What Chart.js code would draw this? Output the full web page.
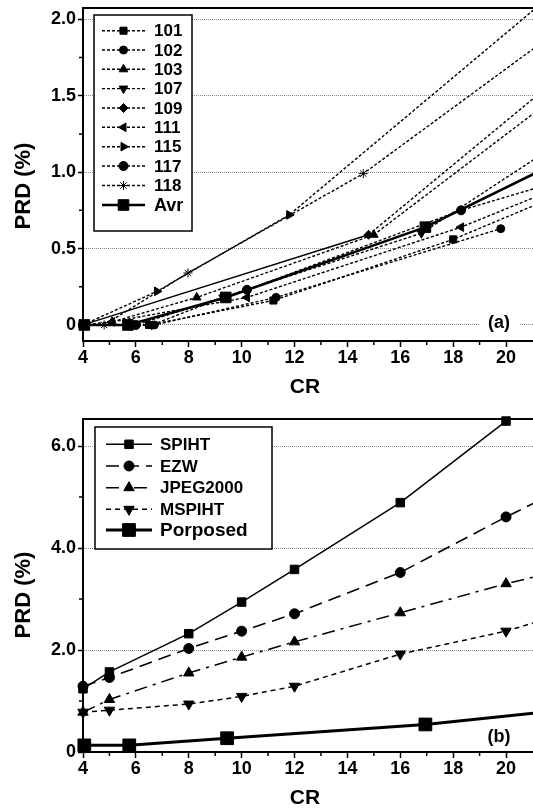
<!DOCTYPE html>
<html lang="en">
<head>
    <meta charset="UTF-8">
    <title>PRD vs CR</title>
    <script src="https://cdn.jsdelivr.net/npm/chart.js"></script>
    <style>
        body {
            margin: 0;
            background: #fff;
        }

        #wrap {
            position: relative;
            width: 533px;
            height: 810px;
            overflow: hidden;
        }

        canvas {
            position: absolute;
            left: 0;
        }

        #chartA { top: 0; }
        #chartB { top: 400px; }
    </style>
</head>
<body>
<div id="wrap">
    <canvas id="chartA" width="533" height="400"></canvas>
    <canvas id="chartB" width="533" height="410"></canvas>
</div>
<script>
    // ---- axes ----
    const xTitle = 'CR';
    const yTitle = 'PRD (%)';
    const xTicks = [4, 6, 8, 10, 12, 14, 16, 18, 20];
    const xMinor = [5, 7, 9, 11, 13, 15, 17, 19];

    const yTicksA = [0, 0.5, 1.0, 1.5, 2.0];
    const yLabelsA = ['0', '0.5', '1.0', '1.5', '2.0'];
    const yMinorA = [0.25, 0.75, 1.25, 1.75];

    const yTicksB = [0, 2, 4, 6];
    const yLabelsB = ['0', '2.0', '4.0', '6.0'];
    const yMinorB = [1, 3, 5];

    // ---- (a) records ----
    const cr101 = [4.0, 6.5, 11.2, 18.0, 22.0];
    const prd101 = [0, 0, 0.16, 0.56, 0.85];
    const cr102 = [4.0, 6.7, 11.3, 19.8];
    const prd102 = [0, 0, 0.18, 0.63];
    const cr103 = [4.0, 5.1, 8.3, 15.0, 22.0];
    const prd103 = [0, 0.02, 0.18, 0.59, 1.51];
    const cr107 = [4.0, 6.6, 9.3, 16.8, 22.0];
    const prd107 = [0, 0, 0.18, 0.60, 1.19];
    const cr109 = [4.0, 14.8, 22.0];
    const prd109 = [0, 0.59, 1.62];
    const cr111 = [4.0, 5.1, 10.2, 18.3, 22.0];
    const prd111 = [0, 0.02, 0.18, 0.64, 0.90];
    const cr115 = [4.0, 6.8, 11.8, 22.0];
    const prd115 = [0, 0.22, 0.72, 2.20];
    const cr117 = [4.0, 6.0, 10.2, 18.3, 22.0];
    const prd117 = [0, 0, 0.23, 0.75, 0.94];
    const cr118 = [4.0, 4.8, 7.97, 14.6, 22.0];
    const prd118 = [0, 0, 0.34, 0.99, 1.93];
    const crAvr = [4.05, 5.7, 9.4, 16.95, 22.0];
    const prdAvr = [0, 0, 0.18, 0.64, 1.07];

    // ---- (b) methods ----
    const crB = [4, 5, 8, 10, 12, 16, 20, 22];
    const spiht = [1.24, 1.57, 2.32, 2.94, 3.58, 4.89, 6.49];
    const ezw = [1.29, 1.46, 2.03, 2.37, 2.71, 3.52, 4.61, 5.12];
    const jpeg2000 = [0.78, 1.03, 1.55, 1.86, 2.16, 2.73, 3.30, 3.55];
    const mspiht = [0.78, 0.82, 0.94, 1.09, 1.29, 1.92, 2.37, 2.68];
    const crProposed = [4.05, 5.75, 9.45, 16.95, 22.0];
    const proposed = [0.13, 0.13, 0.27, 0.54, 0.81];

    const FONT = '"Liberation Sans", Arial, sans-serif';
    Chart.defaults.font.family = FONT;
    Chart.defaults.color = '#000';

    const bold = size => ({ family: FONT, size: size, weight: 'bold' });
    const pts = (xs, ys) => ys.map((y, i) => ({ x: xs[i], y: y }));

    function series(label, xs, ys, style) {
        return Object.assign({
            label: label,
            data: pts(xs, ys),
            borderColor: '#000',
            backgroundColor: '#000',
            pointBackgroundColor: '#000',
            pointBorderColor: '#000',
            pointBorderWidth: 1,
            borderWidth: 1.4,
            borderDash: [3, 2],
            tension: 0,
            pointStyle: 'circle',
            pointRadius: 3.5,
            pointRotation: 0,
            clip: { left: 10, top: 10, right: 0, bottom: 10 }
        }, style);
    }

    // frame, minor ticks, titles, panel tag, legend
    const decor = {
        id: 'decor',
        afterDraw(chart, args, o) {
            const { ctx, chartArea: a, scales: { x, y } } = chart;
            ctx.save();
            ctx.strokeStyle = '#000';
            ctx.lineWidth = 2;
            ctx.beginPath();
            ctx.moveTo(a.left - 1, a.top);
            ctx.lineTo(chart.width, a.top);
            ctx.stroke();

            ctx.lineWidth = 1.5;
            ctx.beginPath();
            o.xMinor.forEach(v => {
                const p = x.getPixelForValue(v);
                ctx.moveTo(p, a.bottom);
                ctx.lineTo(p, a.bottom + 4);
            });
            o.yMinor.forEach(v => {
                const p = y.getPixelForValue(v);
                ctx.moveTo(a.left, p);
                ctx.lineTo(a.left - 4, p);
            });
            ctx.stroke();

            // panel tag
            ctx.fillStyle = '#fff';
            ctx.fillRect(o.tag.x - 20, o.tag.y - 10, 40, 20);
            ctx.fillStyle = '#000';
            ctx.font = 'bold 18px ' + FONT;
            ctx.textAlign = 'center';
            ctx.textBaseline = 'middle';
            ctx.fillText(o.tag.text, o.tag.x, o.tag.y);

            // axis titles
            ctx.font = 'bold 21px ' + FONT;
            ctx.fillText(xTitle, o.title.crX, o.title.crY);
            ctx.save();
            ctx.translate(o.title.prdX, o.title.prdY);
            ctx.rotate(-Math.PI / 2);
            ctx.font = 'bold 22px ' + FONT;
            ctx.fillText(yTitle, 0, 0);
            ctx.restore();

            // legend
            const L = o.legend;
            ctx.fillStyle = '#fff';
            ctx.fillRect(L.box[0], L.box[1], L.box[2] - L.box[0], L.box[3] - L.box[1]);
            ctx.strokeStyle = '#000';
            ctx.lineWidth = 1.5;
            ctx.strokeRect(L.box[0], L.box[1], L.box[2] - L.box[0], L.box[3] - L.box[1]);
            chart.data.datasets.forEach((ds, i) => {
                const ry = L.rows[i];
                ctx.save();
                ctx.strokeStyle = '#000';
                ctx.lineWidth = ds.borderWidth;
                ctx.setLineDash(ds.borderDash || []);
                ctx.beginPath();
                ctx.moveTo(L.x1, ry);
                ctx.lineTo(L.x2, ry);
                ctx.stroke();
                ctx.setLineDash([]);
                ctx.fillStyle = '#000';
                ctx.lineWidth = 1;
                Chart.helpers.drawPoint(ctx, {
                    pointStyle: ds.pointStyle,
                    rotation: ds.pointRotation || 0,
                    radius: ds.pointRadius,
                    borderWidth: 1
                }, (L.x1 + L.x2) / 2, ry);
                ctx.restore();
                ctx.fillStyle = '#000';
                ctx.textAlign = 'left';
                ctx.textBaseline = 'middle';
                ctx.font = 'bold ' + (L.sizes[i] || 17) + 'px ' + FONT;
                ctx.fillText(ds.label, L.tx, ry + 1);
            });
            ctx.restore();
        }
    };

    const noPad = s => {
        s.paddingLeft = 0;
        s.paddingRight = 0;
        s.paddingTop = 0;
        s.paddingBottom = 0;
    };

    function scales(yMin, yMax, yTicks, yLabels, xHeight) {
        return {
            x: {
                type: 'linear',
                min: 4,
                max: 21.02,
                afterBuildTicks: s => { s.ticks = xTicks.map(v => ({ value: v })); },
                afterFit: s => { s.height = xHeight; noPad(s); },
                grid: { drawOnChartArea: false, tickLength: 6, tickColor: '#000', tickWidth: 1.5 },
                border: { color: '#000', width: 2 },
                ticks: { color: '#000', font: bold(18), padding: 0, maxRotation: 0, autoSkip: false,
                         callback: v => String(v) }
            },
            y: {
                type: 'linear',
                min: yMin,
                max: yMax,
                afterBuildTicks: s => { s.ticks = yTicks.map(v => ({ value: v })); },
                afterFit: s => { s.width = 83; noPad(s); },
                grid: { color: '#8a8a8a', lineWidth: 1, tickLength: 5, tickColor: '#000', tickWidth: 1.5 },
                border: { color: '#000', width: 2, dash: [1, 1] },
                ticks: { color: '#000', font: bold(18), padding: 2, autoSkip: false,
                         callback: (v, i) => yLabels[i] }
            }
        };
    }

    new Chart(document.getElementById('chartA'), {
        type: 'line',
        data: {
            datasets: [
                series('101', cr101, prd101, { pointStyle: 'rect', pointRadius: 5 }),
                series('102', cr102, prd102, { pointStyle: 'circle', pointRadius: 4 }),
                series('103', cr103, prd103, { pointStyle: 'triangle', pointRadius: 5 }),
                series('107', cr107, prd107, { pointStyle: 'triangle', pointRadius: 5, pointRotation: 180 }),
                series('109', cr109, prd109, { pointStyle: 'rectRot', pointRadius: 4.5,
                    segment: { borderDash: c => c.p0DataIndex === 0 ? [] : undefined } }),
                series('111', cr111, prd111, { pointStyle: 'triangle', pointRadius: 5, pointRotation: 270 }),
                series('115', cr115, prd115, { pointStyle: 'triangle', pointRadius: 5, pointRotation: 90 }),
                series('117', cr117, prd117, { pointStyle: 'circle', pointRadius: 4.5 }),
                series('118', cr118, prd118, { pointStyle: 'star', pointRadius: 4.5 }),
                series('Avr', crAvr, prdAvr, { pointStyle: 'rect', pointRadius: 7.5, borderWidth: 2.6, borderDash: [] })
            ]
        },
        options: {
            responsive: false,
            animation: false,
            layout: { autoPadding: false, padding: { top: 8, right: 0, bottom: 0, left: 0 } },
            plugins: {
                legend: { display: false },
                tooltip: { enabled: false },
                decor: {
                    xMinor: xMinor,
                    yMinor: yMinorA,
                    tag: { text: '(a)', x: 499, y: 323 },
                    title: { crX: 305, crY: 387, prdX: 24, prdY: 186 },
                    legend: {
                        box: [94, 15, 192, 231],
                        rows: [30.7, 50, 69.3, 88.6, 108, 127.3, 146.7, 166, 185.5, 205],
                        x1: 102, x2: 145, tx: 154,
                        sizes: [17, 17, 17, 17, 17, 17, 17, 17, 17, 18]
                    }
                }
            },
            scales: scales(-0.105, 2.074, yTicksA, yLabelsA, 59)
        },
        plugins: [decor]
    });

    new Chart(document.getElementById('chartB'), {
        type: 'line',
        data: {
            datasets: [
                series('SPIHT', crB, spiht, { pointStyle: 'rect', pointRadius: 6, borderWidth: 1.5, borderDash: [] }),
                series('EZW', crB, ezw, { pointStyle: 'circle', pointRadius: 5, borderWidth: 1.6, borderDash: [13, 7] }),
                series('JPEG2000', crB, jpeg2000, { pointStyle: 'triangle', pointRadius: 6, borderWidth: 1.5,
                    borderDash: [13, 6, 3, 6] }),
                series('MSPIHT', crB, mspiht, { pointStyle: 'triangle', pointRadius: 6, pointRotation: 180,
                    borderWidth: 1.5, borderDash: [5, 4] }),
                series('Porposed', crProposed, proposed, { pointStyle: 'rect', pointRadius: 9, borderWidth: 3,
                    borderDash: [] })
            ]
        },
        options: {
            responsive: false,
            animation: false,
            layout: { autoPadding: false, padding: { top: 19, right: 0, bottom: 0, left: 0 } },
            plugins: {
                legend: { display: false },
                tooltip: { enabled: false },
                decor: {
                    xMinor: xMinor,
                    yMinor: yMinorB,
                    tag: { text: '(b)', x: 499, y: 337 },
                    title: { crX: 305, crY: 398, prdX: 24, prdY: 195 },
                    legend: {
                        box: [95, 27, 272, 149],
                        rows: [44.3, 66, 87.7, 109.3, 130],
                        x1: 106, x2: 152, tx: 160,
                        sizes: [17, 17, 17, 17, 19]
                    }
                }
            },
            scales: scales(0, 6.53, yTicksB, yLabelsB, 58)
        },
        plugins: [decor]
    });
</script>
</body>
</html>
